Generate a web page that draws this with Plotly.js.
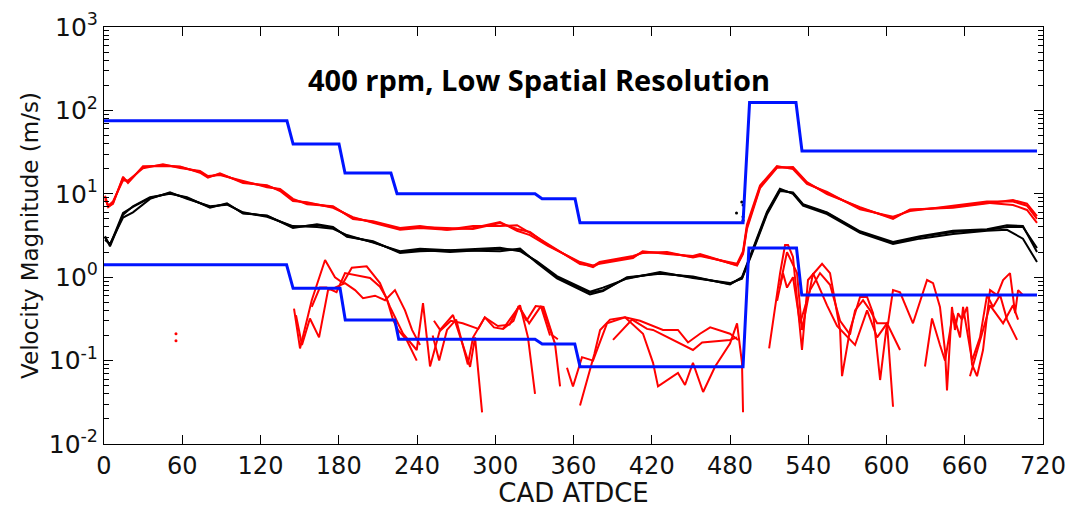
<!DOCTYPE html>
<html><head><meta charset="utf-8">
<script src="https://cdn.plot.ly/plotly-3.0.1.min.js"></script>
<style>html,body{margin:0;padding:0;background:#fff}#chart{width:1075px;height:508px}</style>
</head><body><div id="chart"></div>
<script>
// ---- Data (CAD ATDCE, velocity magnitude m/s) ----
const blueUpperCAD = [0, 140.3, 145, 180.2, 184.8, 220, 224.7, 330.5, 335.9, 361.2, 365, 490, 495, 530.6, 535.2, 715.4];
const blueUpperVel = [75, 75, 39.5, 39.5, 17.7, 17.7, 10, 10, 8.7, 8.7, 4.5, 4.5, 124, 124, 32.6, 32.6];
const blueLowerCAD = [0, 140, 145, 181, 185, 223, 226, 330.5, 336, 361, 365, 490, 494.5, 531, 535, 715.4];
const blueLowerVel = [1.41, 1.41, 0.736, 0.736, 0.307, 0.307, 0.18, 0.18, 0.158, 0.158, 0.0845, 0.0845, 2.24, 2.24, 0.61, 0.61];

const redMeanCAD = [0.8,3.3,6.9,14.6,18.4,29.9,45.2,58.3,73.6,79.7,88.9,106.6,125,135,144.9,155.7,175.6,190.9,206.3,227,242.3,263,282.9,303.6,316.7,326.6,340.4,365,375,380,405.6,413,431.7,451.6,457,485.4,490,493,503,516,528.3,539,554.4,579.7,605,618,651,677,697,707.7,715.4];
const redMeanA = [9.2,6.95,7.8,15.5,13.8,20.9,22.1,20.9,18.3,15.9,17.3,13.8,12.4,11.1,8.43,7.76,6.95,5.13,4.59,3.78,4.0,3.89,3.78,4.47,3.78,3.48,2.43,1.48,1.32,1.48,1.75,2.0,1.95,1.75,1.85,1.40,1.95,4.0,12.1,20.9,20.4,13.5,10.2,6.76,5.13,6.4,6.95,7.8,7.35,6.4,4.47];
const redMeanB = [8.6,7.2,8.1,14.5,14.4,20.2,22.6,20.4,18.8,16.3,16.8,14.2,12.0,11.4,8.7,7.5,7.1,5.0,4.7,3.9,4.1,3.7,4.1,4.1,4.2,3.4,2.5,1.44,1.36,1.52,1.8,1.95,2.0,1.72,1.8,1.45,2.05,4.3,12.6,21.5,19.8,13.1,10.5,6.5,5.3,6.2,7.2,8.1,8.1,7.2,5.0];
const redMeanC = [9.5,7.0,7.6,16.0,13.5,21.4,21.6,21.3,17.9,15.6,17.6,13.5,12.7,10.8,8.2,7.9,6.8,5.25,4.5,3.7,3.9,3.7,3.9,4.6,3.6,3.2,2.38,1.52,1.38,1.45,1.7,2.05,1.9,1.8,1.9,1.38,1.9,3.8,11.7,20.5,20.9,13.8,9.9,6.9,5.0,6.5,6.8,7.6,8.4,7.6,5.4];

const blackMeanCAD = [0.8,4.6,14.6,22.2,35.3,50.6,63.6,81.3,94.3,106.6,125,144.9,163.3,175.6,186.3,206.3,227,242.3,265.3,303.6,319,332,347.3,365,372.6,382.6,401,426.3,451.6,480,489.2,497.6,508.4,518.3,528.3,536,554.4,579.7,605,625.7,651,677,692.4,704.6,715.4];
const blackMeanA = [2.95,2.43,5.89,6.95,8.91,10.2,8.91,6.95,7.55,5.89,5.42,4.0,4.23,3.89,3.12,2.64,2.0,2.12,2.0,2.18,2.12,1.52,1.0,0.74,0.65,0.70,0.98,1.12,1.0,0.83,0.98,2.12,5.89,11.1,10.2,7.35,5.89,3.48,2.57,3.03,3.48,3.68,4.0,4.0,2.24];
const blackMeanB = [2.8,2.5,5.2,6.0,8.7,10.4,8.7,7.1,7.4,6.0,5.3,4.1,4.0,3.8,3.2,2.6,2.05,2.2,2.1,2.05,2.2,1.48,0.97,0.70,0.62,0.68,1.0,1.1,1.02,0.82,1.0,2.2,6.1,11.5,10.0,7.2,5.7,3.4,2.5,2.9,3.3,3.6,3.7,2.9,1.52];
const blackMeanC = [3.1,2.35,5.6,7.1,9.1,10.0,9.1,6.8,7.7,5.8,5.5,3.9,4.3,4.0,3.05,2.7,1.95,2.05,2.1,2.25,2.05,1.55,1.03,0.77,0.67,0.75,0.96,1.15,0.98,0.85,0.96,2.05,5.7,10.8,10.4,7.5,6.0,3.55,2.65,3.1,3.6,3.75,4.2,4.1,2.0];
const blackDotsCAD = [489, 490, 485, 490, 490];
const blackDotsVel = [7.98, 7.35, 5.89, 5.3, 4.8];

const redFluctCAD1 = [145.7,150.3,159.3,169.5,177.1,183.3,190,201.4,211.6,219.3,229.3,239.8,244.6,250,257.6,267.6,280.7,284.5,289.9,null,306,319,325.1,330.5,null,335.9,345.8,349.7,null,355,359.6,366.5,375,385.7,399.5,413.3,421,424.8,434,440.1,445.5,451.6,459.4,468.6,480,485.4,489.2,490,null,510,518.4,522.2,524.5,528.3,535.2,539.8,550.6,556.7,564.4,565.9,572,579.7,585.1,589.7,595.1,600.4,605,null,629.5,634.9,641,644.9,651,656.4,658.7,665.6,671.7,677.1,681.7,687.1,692.4,700.1];
const redFluct1 = [0.42,0.14,0.53,1.61,1.0,0.85,1.3,1.35,0.85,0.44,0.21,0.134,0.49,0.085,0.233,0.352,0.084,0.19,0.024,null,0.24,0.46,0.19,0.040,null,0.45,0.16,0.049,null,0.082,0.049,0.11,0.10,0.28,0.33,0.21,0.094,0.049,0.062,0.071,0.051,0.094,0.042,0.085,0.16,0.28,0.094,0.024,null,0.14,1.12,2.43,2.43,1.75,0.134,0.925,1.45,1.12,0.233,0.065,0.233,0.58,0.58,0.37,0.0585,0.28,0.028,null,0.085,0.32,0.154,0.10,0.37,0.19,0.44,0.10,0.19,0.61,0.44,0.61,0.31,0.177];
const redFluctCAD2 = [147.2,151.8,157.9,164.9,171.8,177.1,184.8,192.5,198.6,207.8,215.5,223.1,230.8,236.2,242.3,null,252,257,263,270,279,283,292,299,306,314,318,324,331,337,344,348,null,365,376,380.4,388,399.5,411,428.6,440.1,447.8,457,464.8,480,486.2,null,516.1,520.6,523.7,528.3,533.7,541.4,549,556.7,564.4,572,575.9,582,587.4,592.8,601.2,605,610.4,620.3,631.1,635.7,641,644.9,646.4,650.2,652.5,654.9,657.9,661.8,665.6,669.4,674,679.4,684.8,689.4,694.7,698.6,700.9,704.7];
const redFluct2 = [0.35,0.154,0.32,0.19,0.70,0.75,0.85,0.70,0.56,0.60,0.53,0.70,0.40,0.233,0.154,null,0.20,0.10,0.233,0.31,0.09,0.19,0.33,0.25,0.24,0.30,0.45,0.30,0.45,0.44,0.20,0.18,null,0.029,0.12,0.233,0.31,0.33,0.30,0.233,0.233,0.165,0.21,0.25,0.21,0.177,null,0.52,1.12,0.75,1.0,0.28,0.70,1.12,0.81,0.30,0.205,0.40,0.53,0.40,0.28,0.28,0.70,0.66,0.28,0.925,0.85,0.44,0.13,0.044,0.44,0.233,0.37,0.31,0.44,0.09,0.065,0.134,0.70,0.61,0.925,1.12,0.37,0.70,0.61];
const redFluctCAD3 = [159.3,165.5,170.6,178.3,184.8,193.8,204,211.6,216.7,221.6,225.4,232,239.8,null,253,258,266,275,287,292,302,311,318,326,335,342,null,390.3,404.9,416.4,421,451.6,458.6,480,485.4,null,518.4,523.7,531.4,535.2,543.7,554.4,562.1,575.9,585.1,592.8,600.4,610.4,null,664,679.4,689.4,697,700.9];
const redFluct3 = [0.44,0.75,0.75,0.66,1.12,1.06,0.98,0.77,0.56,0.31,0.233,0.177,0.10,null,0.30,0.23,0.30,0.28,0.24,0.33,0.26,0.27,0.45,0.28,0.45,0.20,null,0.177,0.31,0.24,0.233,0.134,0.165,0.177,0.19,null,0.80,2.0,1.12,0.233,1.12,0.46,0.26,0.154,0.40,0.19,0.28,0.134,null,0.065,0.46,0.28,0.46,0.31];
const redDotsCAD = [55.2, 55.2];
const redDotsVel = [0.21, 0.173];

const xTicks = [0,60,120,180,240,300,360,420,480,540,600,660,720];
const yTickVals = [0.01,0.1,1,10,100,1000];
const yTickText = ['10<sup>-2</sup>','10<sup>-1</sup>','10<sup>0</sup>','10<sup>1</sup>','10<sup>2</sup>','10<sup>3</sup>'];
const yMinorVals = [0.02,0.03,0.04,0.05,0.06,0.07,0.08,0.09,0.2,0.3,0.4,0.5,0.6,0.7,0.8,0.9,2,3,4,5,6,7,8,9,20,30,40,50,60,70,80,90,200,300,400,500,600,700,800,900];
const chartTitle = '400 rpm, Low Spatial Resolution';

const BLUE = '#0014ff', RED = '#ff0000', BLACK = '#000000';
function line(x, y, color, w) {
  return {type:'scatter', mode:'lines', x:x, y:y, line:{color:color, width:w}, connectgaps:false, hoverinfo:'skip', showlegend:false};
}
const traces = [
  line(redFluctCAD1, redFluct1, RED, 2),
  line(redFluctCAD2, redFluct2, RED, 2),
  line(redFluctCAD3, redFluct3, RED, 2),
  line(redMeanCAD, redMeanA, RED, 2),
  line(redMeanCAD, redMeanB, RED, 2),
  line(redMeanCAD, redMeanC, RED, 2),
  line(blackMeanCAD, blackMeanA, BLACK, 2),
  line(blackMeanCAD, blackMeanB, BLACK, 2),
  line(blackMeanCAD, blackMeanC, BLACK, 2),
  {type:'scatter', mode:'markers', x:blackDotsCAD, y:blackDotsVel, marker:{color:BLACK, size:3}, showlegend:false, hoverinfo:'skip'},
  {type:'scatter', mode:'markers', x:redDotsCAD, y:redDotsVel, marker:{color:RED, size:3}, showlegend:false, hoverinfo:'skip'},
  line(blueUpperCAD, blueUpperVel, BLUE, 3),
  line(blueLowerCAD, blueLowerVel, BLUE, 3),
  // invisible trace so the minor-tick overlay axis is drawn
  {type:'scatter', mode:'markers', x:[0], y:[1], yaxis:'y2', marker:{opacity:0}, showlegend:false, hoverinfo:'skip'}
];

const FONT = 'DejaVu Sans, Liberation Sans, Arial, sans-serif';
const layout = {
  width:1075, height:508,
  margin:{l:104, r:32, t:27, b:64},
  paper_bgcolor:'#fff', plot_bgcolor:'#fff',
  font:{family:FONT, color:'#111'},
  xaxis:{
    range:[0,720], tickmode:'array', tickvals:xTicks, ticktext:xTicks.map(String),
    ticks:'inside', ticklen:9, tickcolor:'#000', showline:true, linecolor:'#000', linewidth:1,
    mirror:'ticks', showgrid:false, zeroline:false,
    tickfont:{family:FONT, size:24, color:'#111'},
    title:{text:'CAD ATDCE', font:{family:FONT, size:26, color:'#111'}, standoff:4}
  },
  yaxis:{
    type:'log', range:[-2,3], tickmode:'array', tickvals:yTickVals, ticktext:yTickText,
    ticks:'inside', ticklen:9, tickcolor:'#000', showline:true, linecolor:'#000', linewidth:1,
    mirror:'ticks', showgrid:false, zeroline:false,
    tickfont:{family:FONT, size:25, color:'#111'},
    title:{text:'Velocity Magnitude (m/s)', font:{family:FONT, size:23, color:'#111'}, standoff:3}
  },
  yaxis2:{
    type:'log', range:[-2,3], overlaying:'y', side:'left', anchor:'x',
    tickmode:'array', tickvals:yMinorVals, showticklabels:false,
    ticks:'inside', ticklen:5, tickcolor:'#000', showline:false, mirror:'ticks',
    showgrid:false, zeroline:false
  },
  annotations:[{
    text:'<b>'+chartTitle+'</b>', xref:'paper', yref:'paper', x:0.463, y:0.873,
    showarrow:false, xanchor:'center', yanchor:'middle',
    font:{family:'Open Sans, sans-serif', size:29, color:'#000'}
  }]
};
Plotly.newPlot('chart', traces, layout, {staticPlot:true, displayModeBar:false});
</script>
</body></html>
